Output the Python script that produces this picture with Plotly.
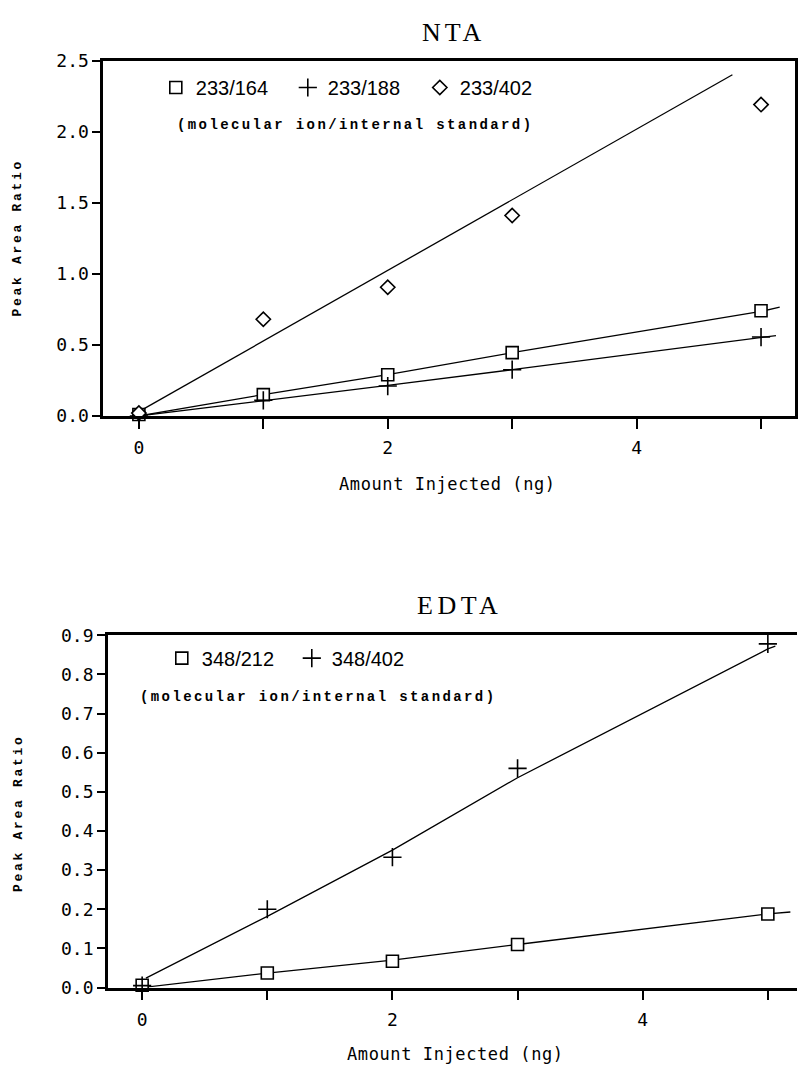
import plotly.graph_objects as go

# ---------------- data ----------------
amount = [0, 1, 2, 3, 5]

# NTA (top panel)
nta_233_164 = [0.01, 0.15, 0.29, 0.445, 0.74]
nta_233_188 = [0.00, 0.11, 0.21, 0.325, 0.555]
nta_233_402 = [0.02, 0.68, 0.905, 1.41, 2.19]

# fitted lines as drawn in the figure
fit_164_x = [0, 1, 2, 3, 5, 5.15]
fit_164_y = [0.0, 0.15, 0.29, 0.445, 0.735, 0.765]
fit_188_x = [0, 1, 2, 3, 5, 5.12]
fit_188_y = [0.0, 0.105, 0.215, 0.325, 0.55, 0.565]
fit_402_x = [0, 4.77]
fit_402_y = [0.03, 2.40]

# EDTA (bottom panel)
edta_348_212 = [0.006, 0.037, 0.067, 0.11, 0.188]
edta_348_402 = [0.005, 0.20, 0.333, 0.56, 0.878]

fit_212_x = [0, 1, 2, 3, 5, 5.18]
fit_212_y = [0.0, 0.037, 0.07, 0.11, 0.188, 0.193]
fit_e402_x = [0.03, 1, 2, 3, 5, 5.06]
fit_e402_y = [0.024, 0.182, 0.351, 0.536, 0.865, 0.872]

nta_yticks = [0.0, 0.5, 1.0, 1.5, 2.0, 2.5]
edta_yticks = [0.0, 0.1, 0.2, 0.3, 0.4, 0.5, 0.6, 0.7, 0.8, 0.9]
x_tickvals = [0, 1, 2, 3, 4, 5]
x_ticktext = ["0", "", "2", "", "4", ""]

W, H = 798, 1075
MONO = "DejaVu Sans Mono"

fig = go.Figure()

def fit_line(x, y, xa, ya):
    fig.add_trace(go.Scatter(x=x, y=y, mode="lines", xaxis=xa, yaxis=ya,
                             line=dict(color="black", width=1.3),
                             showlegend=False, hoverinfo="skip"))

def pts(x, y, name, symbol, size, xa, ya, legend):
    filled = symbol in ("square", "diamond")
    fig.add_trace(go.Scatter(
        x=x, y=y, mode="markers", name=name, xaxis=xa, yaxis=ya,
        legend=legend, cliponaxis=False,
        marker=dict(symbol=symbol, size=size,
                    color="white" if filled else "black",
                    line=dict(color="black", width=1.6))))

# top panel
fit_line(fit_402_x, fit_402_y, "x", "y")
fit_line(fit_164_x, fit_164_y, "x", "y")
fit_line(fit_188_x, fit_188_y, "x", "y")
pts(amount, nta_233_164, "233/164", "square", 12, "x", "y", "legend")
pts(amount, nta_233_188, "233/188", "cross-thin", 13, "x", "y", "legend")
pts(amount, nta_233_402, "233/402", "diamond", 11, "x", "y", "legend")

# bottom panel
fit_line(fit_e402_x, fit_e402_y, "x2", "y2")
fit_line(fit_212_x, fit_212_y, "x2", "y2")
pts(amount, edta_348_212, "348/212", "square", 12, "x2", "y2", "legend2")
pts(amount, edta_348_402, "348/402", "cross-thin", 13, "x2", "y2", "legend2")

axis_common = dict(showgrid=False, zeroline=False, showline=True,
                   linecolor="black", linewidth=2.5, ticks="outside",
                   tickcolor="black", tickwidth=1.5,
                   tickfont=dict(family=MONO, size=18, color="black"))

fig.update_layout(
    width=W, height=H, margin=dict(l=0, r=0, t=0, b=0),
    paper_bgcolor="white", plot_bgcolor="white",
    xaxis=dict(domain=[103.3 / W, 796 / W], range=[-0.287, 5.273],
               tickvals=x_tickvals, ticktext=x_ticktext, ticklen=10,
               ticklabelstandoff=4,
               mirror=True, anchor="y", **axis_common),
    yaxis=dict(domain=[1 - 413 / H, 1 - 50.5 / H], range=[0, 2.5],
               tickvals=nta_yticks, tickformat=".1f", ticklen=8,
               mirror=True, anchor="x", **axis_common),
    xaxis2=dict(domain=[108 / W, 1.0], range=[-0.274, 5.233],
                tickvals=x_tickvals, ticktext=x_ticktext, ticklen=10,
                ticklabelstandoff=4,
                mirror=True, anchor="y2", **axis_common),
    yaxis2=dict(domain=[1 - 996 / H, 1 - 636.7 / H], range=[0, 0.9],
                tickvals=edta_yticks, tickformat=".1f", ticklen=8,
                mirror=False, anchor="x2", **axis_common),
    legend=dict(orientation="h", x=156 / W, xanchor="left",
                y=1 - 78 / H, yanchor="middle",
                font=dict(family="Liberation Sans", size=20, color="black"),
                entrywidth=87, entrywidthmode="pixels",
                bgcolor="rgba(0,0,0,0)", borderwidth=0),
    legend2=dict(orientation="h", x=162 / W, xanchor="left",
                 y=1 - 660 / H, yanchor="middle",
                 font=dict(family="Liberation Sans", size=20, color="black"),
                 entrywidth=85, entrywidthmode="pixels",
                 bgcolor="rgba(0,0,0,0)", borderwidth=0),
)

def ann(text, x, y, size, family, xanchor="center", angle=0, bold=False):
    fig.add_annotation(text=text, x=x / W, y=1 - y / H, xref="paper", yref="paper",
                       showarrow=False, xanchor=xanchor, yanchor="middle",
                       textangle=angle,
                       font=dict(family=family, size=size, color="black",
                                 weight="bold" if bold else "normal"))

spaced = lambda s, sp: f'<span style="letter-spacing:{sp}px">{s}</span>'

# titles
ann(spaced("NTA", 4), 454, 22, 26, "Liberation Serif")
ann(spaced("EDTA", 4.5), 460, 606, 26, "Liberation Serif")
# subtitles
ann(spaced("(molecular ion/internal standard)", 2.4), 175, 116, 14, "Liberation Mono", "left", bold=True)
ann(spaced("(molecular ion/internal standard)", 2.4), 138, 700, 14, "Liberation Mono", "left", bold=True)
# y titles
ann(spaced("Peak Area Ratio", 2.7), 18, 231, 13, "Liberation Mono", angle=-90, bold=True)
ann(spaced("Peak Area Ratio", 2.7), 18, 818, 13, "Liberation Mono", angle=-90, bold=True)
# x titles
ann(spaced("Amount Injected (ng)", 0.6), 448, 482, 17, MONO)
ann(spaced("Amount Injected (ng)", 0.6), 456, 1064, 17, MONO)

fig.write_html("out.html",
               config={"displayModeBar": False},
               post_script="document.body.style.margin='0px';"
                           "document.body.style.overflow='hidden';")
